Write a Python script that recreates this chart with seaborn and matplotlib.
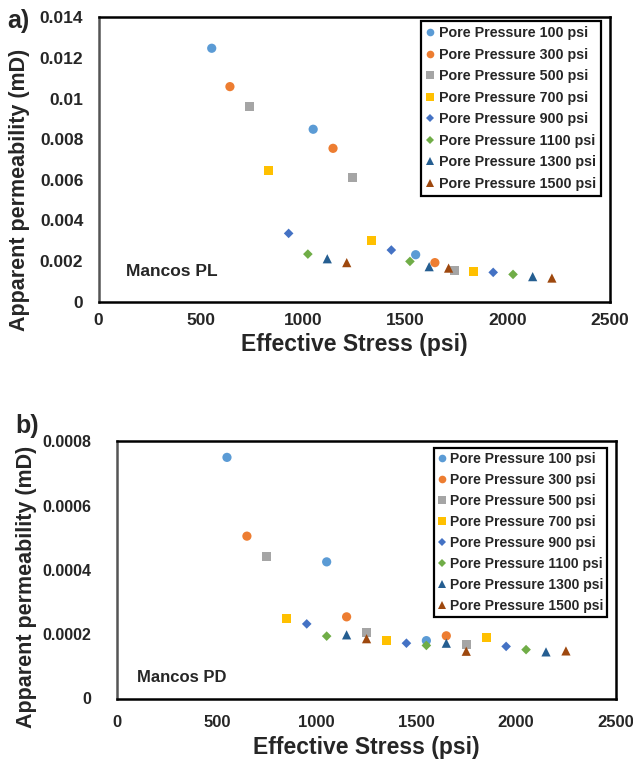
import matplotlib
matplotlib.use("Agg")
import matplotlib.pyplot as plt
from matplotlib.lines import Line2D
import seaborn as sns
import pandas as pd

sns.set_style("white")
plt.rcParams['font.family'] = ['Liberation Sans', 'DejaVu Sans']
plt.rcParams['font.weight'] = 'bold'
plt.rcParams['axes.labelweight'] = 'bold'

series_labels = ["Pore Pressure 100 psi", "Pore Pressure 300 psi", "Pore Pressure 500 psi",
                 "Pore Pressure 700 psi", "Pore Pressure 900 psi", "Pore Pressure 1100 psi",
                 "Pore Pressure 1300 psi", "Pore Pressure 1500 psi"]
colors = ["#5B9BD5", "#ED7D31", "#A5A5A5", "#FFC000", "#4472C4", "#70AD47", "#255E91", "#9E480E"]
marker_shapes = ["o", "o", "s", "s", "D", "D", "^", "^"]
marker_sizes = [44, 44, 42, 42, 24, 24, 44, 44]

# Panel a) Mancos PL
pl_stress = [
    [553, 1049, 1550],
    [642, 1146, 1644],
    [738, 1242, 1739],
    [833, 1336, 1834],
    [929, 1431, 1929],
    [1023, 1522, 2026],
    [1118, 1616, 2122],
    [1213, 1711, 2216],
]
pl_perm = [
    [0.01248, 0.00849, 0.00231],
    [0.01059, 0.00755, 0.00192],
    [0.00959, 0.00612, 0.00151],
    [0.00645, 0.00300, 0.00149],
    [0.00336, 0.00254, 0.00144],
    [0.00234, 0.00198, 0.00134],
    [0.00211, 0.00172, 0.00123],
    [0.00192, 0.00165, 0.00116],
]

# Panel b) Mancos PD
pd_stress = [
    [550, 1050, 1550],
    [650, 1150, 1650],
    [750, 1250, 1750],
    [850, 1350, 1850],
    [950, 1450, 1950],
    [1050, 1550, 2050],
    [1150, 1650, 2150],
    [1250, 1750, 2250],
]
pd_perm = [
    [0.000750, 0.000425, 0.000180],
    [0.000505, 0.000254, 0.000195],
    [0.000442, 0.000205, 0.000169],
    [0.000248, 0.000181, 0.000191],
    [0.000232, 0.000172, 0.000162],
    [0.000194, 0.000165, 0.000152],
    [0.000198, 0.000172, 0.000145],
    [0.000186, 0.000147, 0.000148],
]

x_ticks = [0, 500, 1000, 1500, 2000, 2500]
pl_yticks = [0, 0.002, 0.004, 0.006, 0.008, 0.01, 0.012, 0.014]
pd_yticks = [0, 0.0002, 0.0004, 0.0006, 0.0008]


def make_df(stress, perm):
    rows = []
    for lab, xs, ys in zip(series_labels, stress, perm):
        for x, y in zip(xs, ys):
            rows.append({"Effective Stress": x, "Permeability": y, "Series": lab})
    return pd.DataFrame(rows)


W, H = 633, 759
fig = plt.figure(figsize=(W / 100, H / 100), dpi=100)

ax1 = fig.add_axes([98.6 / W, 1 - 301.6 / H, (610 - 98.6) / W, (301.6 - 17.4) / H])
ax2 = fig.add_axes([117.3 / W, 1 - 698.5 / H, (615.8 - 117.3) / W, (698.5 - 441.3) / H])


def draw(ax, df, yticks, xtick_fs, ytick_fs, xpad, ypad, ylab_xy):
    for lab, col, mk, ms in zip(series_labels, colors, marker_shapes, marker_sizes):
        sub = df[df["Series"] == lab]
        sns.scatterplot(data=sub, x="Effective Stress", y="Permeability", ax=ax,
                        color=col, marker=mk, s=ms, edgecolor="none", linewidth=0,
                        legend=False, zorder=3)
    ax.set_xlim(0, 2500)
    ax.set_ylim(0, yticks[-1])
    ax.set_xticks(x_ticks)
    ax.set_xticklabels([str(t) for t in x_ticks], fontsize=xtick_fs, fontweight='bold')
    ax.set_yticks(yticks)
    ax.set_yticklabels(["{:g}".format(t) for t in yticks], fontsize=ytick_fs, fontweight='bold')
    ax.tick_params(axis='x', direction='in', length=4, width=1, color='#666666', pad=xpad)
    ax.tick_params(axis='y', direction='in', length=4, width=1, color='#999999', pad=ypad)
    for name, sp in ax.spines.items():
        sp.set_visible(True)
        sp.set_linewidth(1.8)
        sp.set_color('black')
    ax.spines['left'].set_color('#555555')
    ax.set_xlabel("Effective Stress (psi)", fontsize=16.5, fontweight='bold', labelpad=4)
    ax.set_ylabel("Apparent permeability (mD)", fontsize=15.5, fontweight='bold')
    ax.yaxis.set_label_coords(ylab_xy[0], ylab_xy[1])


draw(ax1, make_df(pl_stress, pl_perm), pl_yticks, 12.5, 12.5, 8, 11, (-0.134, 0.393))
draw(ax2, make_df(pd_stress, pd_perm), pd_yticks, 12, 11.5, 12, 19, (-0.161, 0.434))


def legend_handles(size):
    hs = []
    for lab, col, mk in zip(series_labels, colors, marker_shapes):
        msz = size * (0.8 if mk == "D" else 1.0)
        hs.append(Line2D([0], [0], linestyle='none', marker=mk, color=col,
                         markeredgewidth=0, markersize=msz, label=lab))
    return hs


leg1 = ax1.legend(handles=legend_handles(5.5), loc='upper right',
                  bbox_to_anchor=(600.7 / W, 1 - 21 / H), bbox_transform=fig.transFigure,
                  prop={'size': 10.3, 'weight': 'bold'}, handlelength=0.6, handletextpad=0.3,
                  labelspacing=0.53, borderpad=0.35, borderaxespad=0, fancybox=False,
                  framealpha=1, edgecolor='black')
leg1.get_frame().set_linewidth(1.6)

leg2 = ax2.legend(handles=legend_handles(5.5), loc='upper right',
                  bbox_to_anchor=(607.3 / W, 1 - 447.7 / H), bbox_transform=fig.transFigure,
                  prop={'size': 10, 'weight': 'bold'}, handlelength=0.6, handletextpad=0.3,
                  labelspacing=0.51, borderpad=0.28, borderaxespad=0, fancybox=False,
                  framealpha=1, edgecolor='black')
leg2.get_frame().set_linewidth(1.6)

fig.text(126 / W, 1 - 276 / H, "Mancos PL", fontsize=12.5, fontweight='bold', va='baseline', ha='left')
fig.text(137.3 / W, 1 - 681.7 / H, "Mancos PD", fontsize=12, fontweight='bold', va='baseline', ha='left')
fig.text(7 / W, 1 - 28 / H, "a)", fontsize=18, fontweight='bold', va='baseline', ha='left')
fig.text(15 / W, 1 - 433 / H, "b)", fontsize=18, fontweight='bold', va='baseline', ha='left')

fig.savefig("out.png", dpi=100)
